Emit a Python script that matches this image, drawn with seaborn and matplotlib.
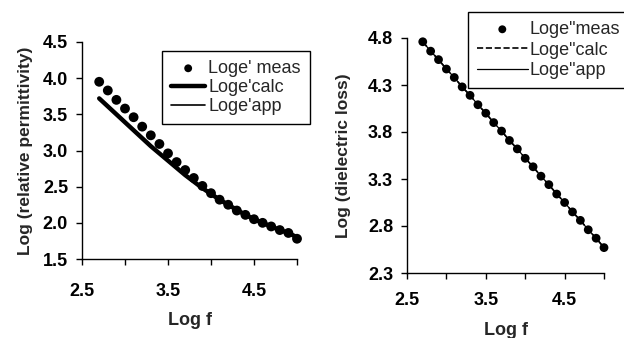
import numpy as np
import pandas as pd
import matplotlib
matplotlib.use('Agg')
import matplotlib.pyplot as plt
import seaborn as sns

# log f values (both panels)
logf = [2.7, 2.8, 2.9, 3.0, 3.1, 3.2, 3.3, 3.4, 3.5, 3.6, 3.7, 3.8,
        3.9, 4.0, 4.1, 4.2, 4.3, 4.4, 4.5, 4.6, 4.7, 4.8, 4.9, 5.0]

# left panel: log relative permittivity
eps1_meas = [3.95, 3.83, 3.70, 3.58, 3.46, 3.33, 3.21, 3.09, 2.96, 2.84, 2.73, 2.62,
             2.51, 2.41, 2.32, 2.25, 2.17, 2.11, 2.05, 2.00, 1.95, 1.90, 1.86, 1.78]
eps1_calc = [3.72, 3.61, 3.50, 3.39, 3.28, 3.17, 3.06, 2.96, 2.86, 2.76, 2.66, 2.57,
             2.48, 2.40, 2.32, 2.25, 2.18, 2.11, 2.05, 2.00, 1.95, 1.90, 1.86, 1.80]
eps1_app = [3.73, 3.62, 3.51, 3.40, 3.29, 3.18, 3.07, 2.97, 2.87, 2.77, 2.67, 2.58,
            2.49, 2.41, 2.33, 2.25, 2.18, 2.11, 2.05, 2.00, 1.95, 1.90, 1.86, 1.80]

# right panel: log dielectric loss
eps2_meas = [4.76, 4.66, 4.57, 4.47, 4.38, 4.28, 4.19, 4.09, 4.00, 3.90, 3.81, 3.71,
             3.62, 3.52, 3.43, 3.33, 3.24, 3.14, 3.05, 2.95, 2.86, 2.76, 2.67, 2.57]
eps2_calc = [4.76, 4.66, 4.57, 4.47, 4.38, 4.28, 4.19, 4.09, 4.00, 3.90, 3.81, 3.71,
             3.62, 3.52, 3.43, 3.33, 3.24, 3.14, 3.05, 2.95, 2.86, 2.76, 2.67, 2.57]
eps2_app = [4.76, 4.66, 4.57, 4.47, 4.38, 4.28, 4.19, 4.09, 4.00, 3.90, 3.81, 3.71,
            3.62, 3.52, 3.43, 3.33, 3.24, 3.14, 3.05, 2.95, 2.86, 2.76, 2.67, 2.57]

sns.set_style('ticks')
plt.rcParams['font.family'] = ['Liberation Sans', 'DejaVu Sans']

fig = plt.figure(figsize=(6.24, 3.38), dpi=100)
ax1 = fig.add_axes([82/624, 1-259/338, 215/624, 217/338])
ax2 = fig.add_axes([407/624, 1-273/338, 197/624, 235/338])

#----------------------------- left
sns.lineplot(x=logf, y=eps1_calc, ax=ax1, color='black', lw=3.2, label="Loge'calc")
sns.lineplot(x=logf, y=eps1_app, ax=ax1, color='black', lw=1.2, label="Loge'app")
sns.scatterplot(x=logf, y=eps1_meas, ax=ax1, color='black', s=50, edgecolor='none',
                label="Loge' meas", zorder=3, clip_on=False)
ax1.set_xlim(2.5, 5.0)
ax1.set_ylim(1.5, 4.5)
ax1.set_xticks([2.5, 3.0, 3.5, 4.0, 4.5, 5.0])
ax1.set_xticklabels(['2.5', '', '3.5', '', '4.5', ''])
ax1.set_yticks([1.5, 2.0, 2.5, 3.0, 3.5, 4.0, 4.5])
ax1.set_yticklabels(['1.5', '2.0', '2.5', '3.0', '3.5', '4.0', '4.5'])
ax1.set_xlabel('Log f', fontsize=13, fontweight='bold', labelpad=9)
ax1.set_ylabel('Log (relative permittivity)', fontsize=12.5, fontweight='bold', labelpad=7)
ax1.tick_params(axis='x', pad=13)
h, l = ax1.get_legend_handles_labels()
ax1.legend([h[2], h[0], h[1]], [l[2], l[0], l[1]], loc='upper left',
           bbox_to_anchor=(162/624, 1-51/338), bbox_transform=fig.transFigure,
           fontsize=13, frameon=True, fancybox=False, edgecolor='black',
           framealpha=1, handlelength=1.9, handletextpad=0.15, borderpad=0.5,
           labelspacing=0.12, borderaxespad=0, markerscale=0.8)
ax1.get_legend().get_frame().set_linewidth(1.0)

#----------------------------- right
sns.lineplot(x=logf, y=eps2_calc, ax=ax2, color='black', lw=1.2, linestyle='--',
             label='Loge"calc')
sns.lineplot(x=logf, y=eps2_app, ax=ax2, color='black', lw=0.9, label='Loge"app')
sns.scatterplot(x=logf, y=eps2_meas, ax=ax2, color='black', s=40, edgecolor='none',
                label='Loge"meas', zorder=3, clip_on=False)
ax2.set_xlim(2.5, 5.0)
ax2.set_ylim(2.3, 4.8)
ax2.set_xticks([2.5, 3.0, 3.5, 4.0, 4.5, 5.0])
ax2.set_xticklabels(['2.5', '', '3.5', '', '4.5', ''])
ax2.set_yticks([2.3, 2.8, 3.3, 3.8, 4.3, 4.8])
ax2.set_yticklabels(['2.3', '2.8', '3.3', '3.8', '4.3', '4.8'])
ax2.set_xlabel('Log f', fontsize=13, fontweight='bold', labelpad=9)
ax2.set_ylabel('Log (dielectric loss)', fontsize=12.5, fontweight='bold', labelpad=12)
ax2.tick_params(axis='x', pad=10)
h, l = ax2.get_legend_handles_labels()
ax2.legend([h[2], h[0], h[1]], [l[2], l[0], l[1]], loc='upper left',
           bbox_to_anchor=(468/624, 1-12/338), bbox_transform=fig.transFigure,
           fontsize=13, frameon=True, fancybox=False, edgecolor='black',
           framealpha=1, handlelength=2.8, handletextpad=0.1, borderpad=0.5,
           labelspacing=0.2, borderaxespad=0, markerscale=0.9)
ax2.get_legend().get_frame().set_linewidth(1.0)

for ax in (ax1, ax2):
    sns.despine(ax=ax)
    ax.spines['left'].set_color('black')
    ax.spines['bottom'].set_color('black')
    ax.spines['left'].set_linewidth(1.0)
    ax.spines['bottom'].set_linewidth(1.0)
    ax.tick_params(direction='out', length=4, width=1, colors='black', labelsize=13)
    ax.tick_params(axis='y', pad=6)
    for t in ax.get_xticklabels() + ax.get_yticklabels():
        t.set_fontweight('bold')
    ax.set_facecolor('white')
    ax.grid(False)

fig.savefig('out.png', dpi=100, facecolor='white')
